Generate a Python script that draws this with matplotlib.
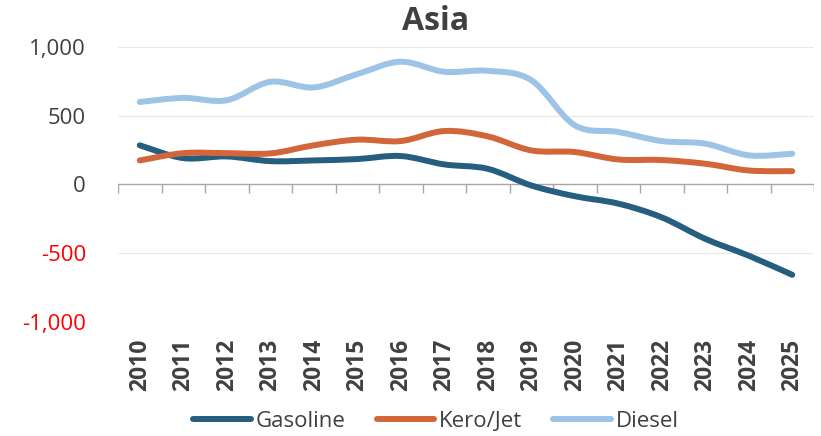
import matplotlib
matplotlib.use("Agg")
import matplotlib.pyplot as plt
from matplotlib.path import Path
from matplotlib.patches import PathPatch
from matplotlib.lines import Line2D
from matplotlib.transforms import blended_transform_factory
import numpy as np

years = ["2010", "2011", "2012", "2013", "2014", "2015", "2016", "2017",
         "2018", "2019", "2020", "2021", "2022", "2023", "2024", "2025"]
gasoline = [285, 192, 204, 170, 175, 185, 207, 146, 114, -7, -85, -139,
            -239, -395, -518, -657]
kero_jet = [175, 228, 228, 226, 285, 326, 316, 389, 350, 248, 236, 182,
            178, 151, 102, 97]
diesel = [600, 630, 613, 747, 706, 803, 893, 820, 827, 759, 431, 382,
          316, 297, 212, 224]
y_ticks = [1000, 500, 0, -500, -1000]
y_tick_labels = ["1,000", "500", "0", "-500", "-1,000"]

series = [("Gasoline", gasoline, "#255E7E"),
          ("Kero/Jet", kero_jet, "#D2663A"),
          ("Diesel", diesel, "#9DC3E6")]

FONT = "Open Sans"
TEXT = "#404040"


def smooth_path(xs, ys):
    """Cubic Bezier path through the points (Catmull-Rom style tangents)."""
    pts = np.column_stack([xs, ys]).astype(float)
    n = len(pts)
    verts = [pts[0]]
    codes = [Path.MOVETO]
    for i in range(n - 1):
        p0 = pts[i - 1] if i > 0 else pts[i]
        p1 = pts[i]
        p2 = pts[i + 1]
        p3 = pts[i + 2] if i + 2 < n else pts[i + 1]
        c1 = p1 + (p2 - p0) / 6.0
        c2 = p2 - (p3 - p1) / 6.0
        verts += [c1, c2, p2]
        codes += [Path.CURVE4] * 3
    return Path(verts, codes)


fig = plt.figure(figsize=(8.21, 4.36), dpi=100)
ax = fig.add_axes([118 / 821, 1 - 322 / 436, (814 - 118) / 821, (322 - 47) / 436])

x = np.arange(len(years))
ax.set_xlim(-0.5, len(years) - 0.5)
ax.set_ylim(-1000, 1000)

# gridlines
for v in y_ticks:
    if v != 0:
        ax.axhline(v, color="#E9E9E9", lw=0.9, zorder=0)

# zero axis line with downward tick marks at category boundaries
ax.axhline(0, color="#A6A6A6", lw=1.0, zorder=1)
for b in np.arange(-0.5, len(years), 1.0):
    ax.plot([b, b], [0, -65], color="#A6A6A6", lw=1.0, zorder=1,
            solid_capstyle="butt")

for name, vals, col in series:
    patch = PathPatch(smooth_path(x, vals), facecolor="none", edgecolor=col,
                      lw=4.3, capstyle="round", joinstyle="round", zorder=3)
    ax.add_patch(patch)

for s in ax.spines.values():
    s.set_visible(False)

ax.set_xticks([])
ax.set_yticks(y_ticks)
ax.set_yticklabels(y_tick_labels, fontsize=16, fontfamily=FONT)
ax.tick_params(axis="y", length=0, pad=23)
for lbl, v in zip(ax.get_yticklabels(), y_ticks):
    lbl.set_color("red" if v < 0 else TEXT)

# category labels under the plot area
trans = blended_transform_factory(ax.transData, ax.transAxes)
for xi, yr in zip(x, years):
    ax.text(xi, -0.06, yr, transform=trans, rotation=90, ha="center", va="top",
            fontsize=16.5, fontweight="bold", fontfamily=FONT, color=TEXT)

fig.text(436 / 821, 1 - 21 / 436, "Asia", ha="center", va="center",
         fontsize=23, fontweight="bold", fontfamily=FONT, color=TEXT)

handles = [Line2D([0], [0], color=c, lw=4.3, solid_capstyle="round")
           for _, _, c in series]
leg = fig.legend(handles, [n for n, _, _ in series], loc="center",
                 bbox_to_anchor=(436 / 821, 1 - 421 / 436), ncol=3,
                 frameon=False, handlelength=2.6, handletextpad=0.2,
                 columnspacing=1.4, prop={"family": FONT, "size": 16})
for t in leg.get_texts():
    t.set_color(TEXT)

fig.savefig("out.png", dpi=100)
